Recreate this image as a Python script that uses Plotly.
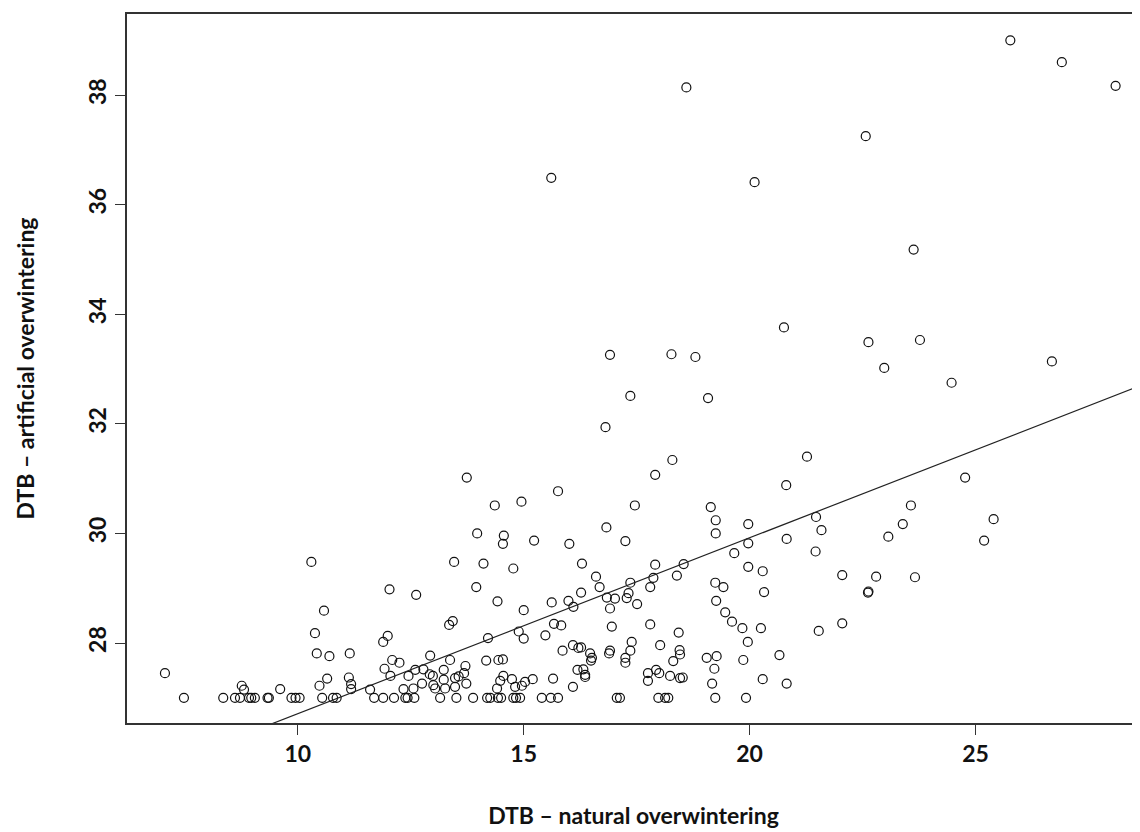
import plotly.graph_objects as go

# DTB - natural overwintering (x) and DTB - artificial overwintering (y)
natural_dtb = [
    10.30, 12.03, 10.58, 10.38, 11.99, 11.89, 10.42, 10.70, 11.15, 7.06,
    12.09, 11.92, 10.65, 10.48, 11.13, 11.18, 11.18, 8.76, 8.81, 9.61, 11.60,
    7.48, 8.35, 8.61, 8.72, 8.92, 8.97, 9.05, 9.33, 9.36, 9.86, 9.95, 10.04,
    10.54, 10.78, 10.86, 11.69, 11.89, 12.13,
    13.74, 14.36, 14.95, 15.76, 16.81, 17.36, 13.97, 14.56, 14.54, 15.23,
    16.01, 16.83, 17.25, 13.46, 14.11, 14.77, 16.29,
    16.60, 16.68, 12.62, 13.95, 14.42, 15.00, 15.62, 15.99, 16.10, 16.27,
    16.84, 17.02, 16.91, 16.95, 13.43, 13.35, 14.21, 14.89, 15.00, 15.48,
    15.67, 15.83, 15.86, 16.09, 16.21, 16.27, 16.47, 16.51, 16.49, 16.91,
    16.89, 16.19, 16.32, 16.36, 16.36, 16.09, 15.65, 12.25, 12.93, 13.37,
    13.71, 14.17, 14.44, 14.54, 12.05, 12.45, 12.60, 12.78, 12.92, 12.99,
    13.23, 13.56, 13.68, 13.73, 13.48, 13.23, 13.00, 13.04, 12.75, 12.34,
    12.56, 13.26, 13.48, 14.55, 14.48, 14.74, 14.41, 14.81, 14.96, 15.03, 15.20,
    12.38, 12.43, 12.58, 13.15, 13.51, 13.88, 14.19, 14.26, 14.43, 14.50,
    14.77, 14.83, 14.92, 15.40, 15.60, 15.76,
    17.91, 18.54, 19.97, 20.29, 22.05, 17.87, 18.39, 17.80, 17.36, 17.32,
    17.28, 17.51, 19.24, 19.42, 20.32, 19.26, 19.46, 19.61, 19.84, 20.25,
    17.80, 18.43, 19.96, 21.53, 22.05, 17.39, 17.36, 17.25, 17.25, 18.02,
    18.45, 18.46, 18.31, 19.05, 19.27, 19.22, 19.86, 20.66, 17.75, 17.93,
    18.00, 17.75, 18.24, 18.46, 18.52, 19.17, 20.29, 20.82,
    17.06, 17.13, 17.98, 18.13, 18.20, 19.24, 19.92,
    19.08, 18.29, 17.91, 21.27, 20.81, 17.46, 19.14, 19.25, 19.25, 19.97,
    19.97, 20.82, 21.47, 21.59, 21.46, 19.66,
    24.47, 24.77, 23.57, 23.39, 23.07, 25.40, 25.19,
    22.80, 23.66, 22.63, 22.62,
    15.61, 16.91, 18.27, 25.77, 26.91, 28.10, 18.60, 22.57, 20.11, 23.63,
    20.76, 18.80, 22.63, 23.77, 22.98, 26.69,
]
artificial_dtb = [
    29.48, 28.98, 28.59, 28.18, 28.13, 28.02, 27.81, 27.76, 27.81, 27.45,
    27.69, 27.53, 27.35, 27.22, 27.37, 27.25, 27.16, 27.22, 27.15, 27.16, 27.15,
    27.0, 27.0, 27.0, 27.0, 27.0, 27.0, 27.0, 27.0, 27.0, 27.0, 27.0, 27.0,
    27.0, 27.0, 27.0, 27.0, 27.0, 27.0,
    31.02, 30.51, 30.58, 30.77, 31.94, 32.51, 30.00, 29.96, 29.81, 29.87,
    29.81, 30.11, 29.86, 29.48, 29.45, 29.36, 29.45,
    29.21, 29.02, 28.88, 29.02, 28.76, 28.60, 28.74, 28.77, 28.66, 28.92,
    28.83, 28.81, 28.63, 28.30, 28.40, 28.33, 28.09, 28.21, 28.08, 28.14,
    28.35, 28.32, 27.86, 27.96, 27.91, 27.92, 27.81, 27.73, 27.68, 27.86,
    27.81, 27.51, 27.52, 27.42, 27.38, 27.20, 27.35, 27.64, 27.77, 27.69,
    27.58, 27.68, 27.69, 27.70, 27.40, 27.40, 27.51, 27.52, 27.43, 27.40,
    27.51, 27.39, 27.45, 27.26, 27.36, 27.33, 27.23, 27.17, 27.26, 27.16,
    27.17, 27.17, 27.20, 27.40, 27.31, 27.34, 27.17, 27.20, 27.22, 27.29, 27.34,
    27.0, 27.0, 27.0, 27.0, 27.0, 27.0, 27.0, 27.0, 27.0, 27.0,
    27.0, 27.0, 27.0, 27.0, 27.0, 27.0,
    29.43, 29.44, 29.39, 29.31, 29.24, 29.19, 29.23, 29.02, 29.10, 28.91,
    28.82, 28.71, 29.10, 29.02, 28.93, 28.77, 28.56, 28.39, 28.27, 28.27,
    28.34, 28.19, 28.02, 28.22, 28.36, 28.02, 27.86, 27.73, 27.64, 27.96,
    27.87, 27.79, 27.67, 27.73, 27.76, 27.53, 27.69, 27.78, 27.45, 27.51,
    27.45, 27.31, 27.40, 27.36, 27.37, 27.26, 27.34, 27.26,
    27.0, 27.0, 27.0, 27.0, 27.0, 27.0, 27.0,
    32.47, 31.34, 31.07, 31.40, 30.88, 30.51, 30.48, 30.24, 30.00, 30.17,
    29.82, 29.90, 30.30, 30.06, 29.67, 29.64,
    32.75, 31.02, 30.51, 30.17, 29.94, 30.26, 29.87,
    29.21, 29.20, 28.94, 28.92,
    36.49, 33.26, 33.27, 39.00, 38.60, 38.17, 38.14, 37.25, 36.41, 35.18,
    33.76, 33.22, 33.49, 33.53, 33.02, 33.14,
]

# fitted regression line
fit_intercept = 23.50
fit_slope = 0.321

x_range = [6.22, 28.64]
y_range = [26.54, 39.48]
x_ticks = [10, 15, 20, 25]
y_ticks = [28, 30, 32, 34, 36, 38]

FONT = "Lato"
fig = go.Figure()
fig.add_trace(go.Scatter(
    x=natural_dtb, y=artificial_dtb, mode="markers",
    marker=dict(symbol="circle-open", size=9, color="#111111",
                line=dict(width=1.2, color="#111111")),
    showlegend=False,
))
fig.add_trace(go.Scatter(
    x=x_range, y=[fit_intercept + fit_slope * v for v in x_range],
    mode="lines", line=dict(color="#222222", width=1.2), showlegend=False,
))

axis_common = dict(
    showline=True, linecolor="#333333", linewidth=1.5, mirror=True,
    showgrid=False, zeroline=False, ticks="outside", ticklen=10,
    tickwidth=1.2, tickcolor="#333333",
    tickfont=dict(family=FONT, size=23, color="#111111", weight="bold"),
    automargin=False,
)
fig.update_xaxes(range=x_range, tickvals=x_ticks, **axis_common,
                 title=dict(text="DTB – natural overwintering", standoff=42,
                            font=dict(family=FONT, size=23, color="#111111", weight="bold")))
fig.update_yaxes(range=y_range, tickvals=y_ticks, tickangle=-90, **axis_common,
                 title=dict(text="DTB – artificial overwintering", standoff=42,
                            font=dict(family=FONT, size=23, color="#111111", weight="bold")))
fig.update_layout(
    width=1132, height=824,
    margin=dict(l=119, r=0, t=6, b=109),
    plot_bgcolor="white", paper_bgcolor="white",
)
fig.write_html("out.html")
